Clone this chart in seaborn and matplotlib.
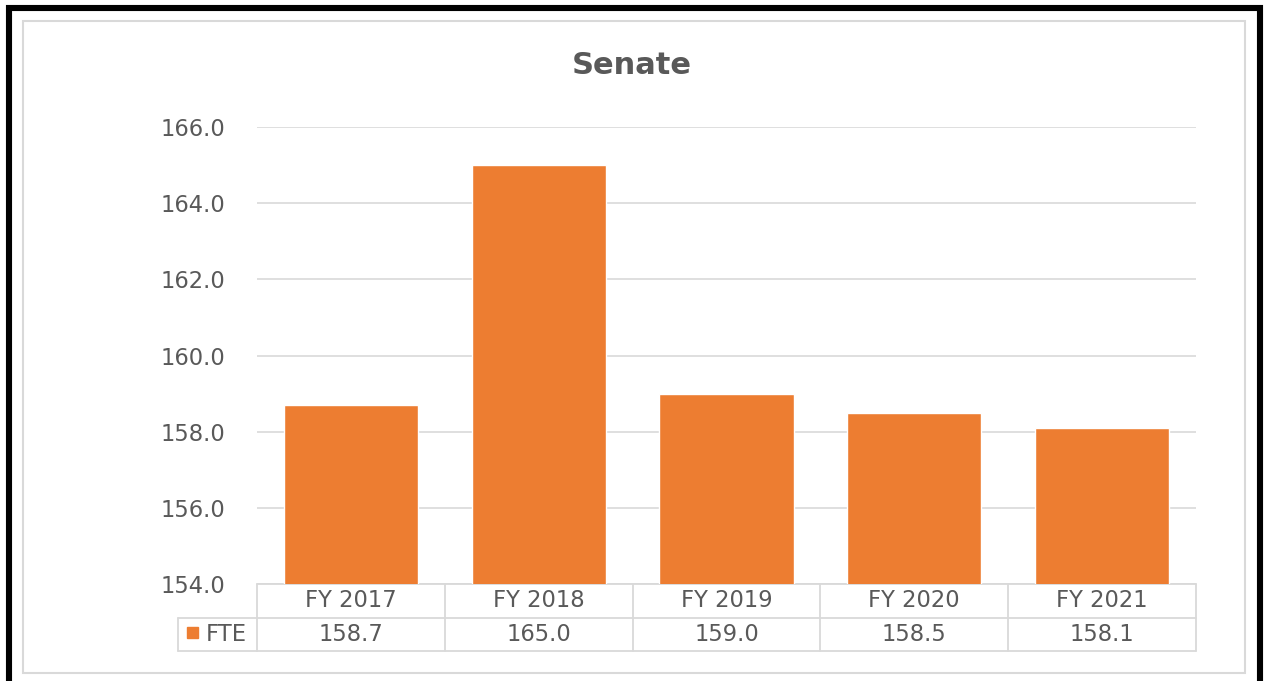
import matplotlib
matplotlib.use("Agg")
import matplotlib.pyplot as plt
import matplotlib.transforms as mtransforms
from matplotlib.patches import Rectangle
from matplotlib.lines import Line2D
import seaborn as sns
import pandas as pd

# Senate FTE by fiscal year
years = ["FY 2017", "FY 2018", "FY 2019", "FY 2020", "FY 2021"]
fte = [158.7, 165.0, 159.0, 158.5, 158.1]
series_name = "FTE"
y_ticks = [154, 156, 158, 160, 162, 164, 166]

BAR = "#ED7D31"
TEXT = "#595959"
GRID = "#D9D9D9"
FS = 16.3

sns.set_theme(style="white")
plt.rcParams["font.family"] = ["DejaVu Sans"]

W, H = 1265, 681
fig = plt.figure(figsize=(W / 100, H / 100), dpi=100)
fig.patch.set_facecolor("white")

def px(x0, y0, x1, y1):
    return [x0 / W, 1 - y1 / H, (x1 - x0) / W, (y1 - y0) / H]

# outer black frame and inner light frame
fig.patches.append(Rectangle((9 / W, 1 - 700 / H), (1260 - 9) / W, (700 - 8) / H,
                             transform=fig.transFigure, fill=False,
                             edgecolor="black", linewidth=4.4, zorder=0))
fig.patches.append(Rectangle((22.5 / W, 1 - 673 / H), (1245 - 22.5) / W, (673 - 21) / H,
                             transform=fig.transFigure, fill=False,
                             edgecolor=GRID, linewidth=1.5, zorder=0))

ax = fig.add_axes(px(257, 127, 1196, 584))
df = pd.DataFrame({"year": years, "value": fte})
sns.barplot(data=df, x="year", y="value", color=BAR, saturation=1,
            width=0.714, ax=ax, zorder=3)

ax.set_ylim(154, 166)
ax.set_xlim(-0.5, len(years) - 0.5)
ax.set_yticks(y_ticks)
ax.set_yticklabels([f"{v:.1f}" for v in y_ticks], color=TEXT, fontsize=FS)
ax.tick_params(axis="y", length=0, pad=23)
ax.set_xticks([])
ax.set_xlabel("")
ax.set_ylabel("")
for s in ax.spines.values():
    s.set_visible(False)
ax.grid(axis="y", color=GRID, linewidth=1.2, zorder=0)
ax.set_axisbelow(True)

# data table beneath the plot
blend = mtransforms.blended_transform_factory(ax.transData, ax.transAxes)
row_h = 33.5 / (584 - 127)
r0, r1, r2 = 0.0, -row_h, -2 * row_h
n = len(years)
lw = 1.3
lines = []
for yy in (r0, r1, r2):
    lines.append(Line2D([-0.5, n - 0.5], [yy, yy], transform=blend))
for i in range(n + 1):
    lines.append(Line2D([i - 0.5, i - 0.5], [r0, r2], transform=blend))
leg_left = (178 - 257) / (1196 - 257)
for yy in (r1, r2):
    lines.append(Line2D([leg_left, 0], [yy, yy], transform=ax.transAxes))
lines.append(Line2D([leg_left, leg_left], [r1, r2], transform=ax.transAxes))
for ln in lines:
    ln.set_color(GRID)
    ln.set_linewidth(lw)
    ln.set_clip_on(False)
    ax.add_artist(ln)

for i, (yr, v) in enumerate(zip(years, fte)):
    ax.text(i, (r0 + r1) / 2, yr, transform=blend, ha="center", va="center",
            color=TEXT, fontsize=FS, clip_on=False)
    ax.text(i, (r1 + r2) / 2, f"{v:.1f}", transform=blend, ha="center", va="center",
            color=TEXT, fontsize=FS, clip_on=False)

# legend key and label
key_w = 11 / (1196 - 257)
key_h = 11 / (584 - 127)
key_x = (187 - 257) / (1196 - 257)
ax.add_patch(Rectangle((key_x, (r1 + r2) / 2 - key_h / 2 + 2 / 457), key_w, key_h,
                       transform=ax.transAxes, color=BAR, clip_on=False))
ax.text((206 - 257) / (1196 - 257), (r1 + r2) / 2, series_name, transform=ax.transAxes,
        ha="left", va="center", color=TEXT, fontsize=FS, clip_on=False)

fig.text(632 / W, 1 - 65 / H, "Senate", ha="center", va="center",
         fontsize=22, fontweight="bold", color=TEXT)

fig.savefig("out.png", dpi=100)
